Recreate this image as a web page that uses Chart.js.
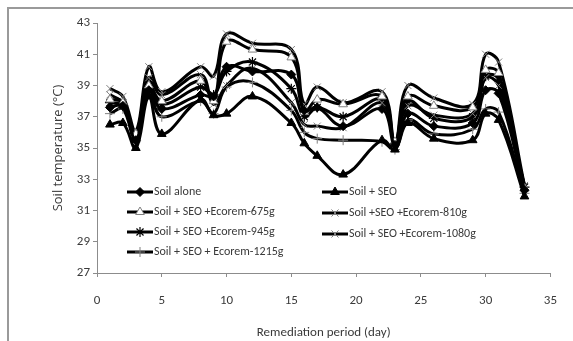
<!DOCTYPE html>
<html>
<head>
<meta charset="utf-8">
<script src="https://cdn.jsdelivr.net/npm/chart.js@4.4.0/dist/chart.umd.min.js"></script>
<style>
  body { margin: 0; background: #fff; }
  #wrap { position: relative; width: 573px; height: 341px; overflow: hidden; background: #fff; }
  #frame { position: absolute; left: 7px; top: 7px; width: 600px; height: 400px;
           border-top: 2px solid #9a9a9a; border-left: 2px solid #9a9a9a; }
  canvas { position: absolute; left: 0; top: 0; }
</style>
</head>
<body>
<div id="wrap">
  <div id="frame"></div>
  <canvas id="tempChart" width="573" height="341"></canvas>
</div>
<script>
// sampling days (x values)
const days = [1, 2, 3, 4, 5, 8, 9, 10, 12, 15, 16, 17, 19, 22, 23, 24, 26, 29, 30, 31, 33];

// soil temperature readings (°C)
const soilAlone   = [37.6, 37.7, 35.5, 38.7, 37.5, 38.4, 38.3, 40.2, 39.9, 39.7, 37.4, 37.6, 36.4, 37.5, 35.2, 37.2, 36.4, 36.6, 38.7, 38.5, 32.3];
const soilSeo     = [36.5, 36.6, 35.0, 38.3, 35.9, 38.1, 37.1, 37.2, 38.3, 36.6, 35.3, 34.5, 33.3, 35.5, 34.9, 36.6, 35.6, 35.5, 37.2, 36.8, 31.9];
const ecorem675   = [38.1, 37.9, 35.9, 39.0, 38.0, 39.3, 38.0, 41.8, 41.3, 40.8, 37.3, 38.1, 37.8, 38.3, 35.4, 38.3, 37.7, 37.6, 40.0, 39.8, 32.4];
const ecorem810   = [38.4, 37.9, 36.0, 39.5, 38.4, 39.7, 37.8, 39.0, 40.1, 37.9, 36.5, 36.4, 36.3, 37.9, 35.4, 37.7, 37.1, 37.2, 39.5, 39.0, 32.6];
const ecorem945   = [37.9, 37.7, 35.6, 39.2, 37.8, 38.9, 38.4, 39.9, 40.5, 38.8, 37.0, 37.6, 37.0, 38.1, 35.3, 38.0, 36.9, 37.0, 39.6, 39.4, 32.5];
const ecorem1080  = [38.8, 38.3, 36.1, 40.2, 38.6, 40.2, 39.6, 42.3, 41.7, 41.3, 37.8, 38.9, 37.9, 38.6, 35.3, 39.0, 38.2, 37.8, 41.0, 40.5, 32.6];
const ecorem1215  = [37.2, 37.5, 35.4, 38.5, 37.0, 38.0, 37.2, 38.9, 39.2, 37.4, 36.0, 35.6, 35.5, 35.4, 34.9, 36.8, 35.9, 36.2, 37.5, 37.3, 32.1];

const seriesLabels = [
    'Soil alone',
    'Soil + SEO',
    'Soil + SEO +Ecorem-675g',
    'Soil +SEO +Ecorem-810g',
    'Soil + SEO +Ecorem-945g',
    'Soil + SEO +Ecorem-1080g',
    'Soil + SEO + Ecorem-1215g'
];
const seriesValues = [soilAlone, soilSeo, ecorem675, ecorem810, ecorem945, ecorem1080, ecorem1215];

const yTicks = { min: 27, max: 43, step: 2 };
const xTicks = { min: 0, max: 35, step: 5 };

// marker look for each series
const markers = [
    { style: 'rectRot',  radius: 4.5, fill: '#000', stroke: '#000', width: 1 },
    { style: 'triangle', radius: 5,   fill: '#000', stroke: '#000', width: 1 },
    { style: 'triangle', radius: 5,   fill: '#fff', stroke: '#808080', width: 1 },
    { style: 'crossRot', radius: 5,   fill: '#808080', stroke: '#808080', width: 1 },
    { style: 'star',     radius: 5,   fill: '#000', stroke: '#000', width: 1.2 },
    { style: 'crossRot', radius: 5,   fill: '#808080', stroke: '#808080', width: 1 },
    { style: 'cross',    radius: 5,   fill: '#808080', stroke: '#808080', width: 1 }
];

const narrowFont = "Carlito, 'Liberation Sans Narrow', 'DejaVu Sans Condensed', sans-serif";
const textColor = '#3a3a3a';
const axisGray = '#8c8c8c';

const datasets = seriesLabels.map((label, i) => ({
    label: label,
    data: days.map((d, j) => ({ x: d, y: seriesValues[i][j] })),
    borderColor: '#000',
    borderWidth: 3,
    tension: 0.4,
    fill: false,
    pointStyle: markers[i].style,
    pointRadius: markers[i].radius,
    pointBackgroundColor: markers[i].fill,
    pointBorderColor: markers[i].stroke,
    pointBorderWidth: markers[i].width
}));

// legend drawn inside the plot, two columns like the original
const legendPlugin = {
    id: 'insideLegend',
    afterDraw(chart) {
        const ctx = chart.ctx;
        const cols = [127, 322];
        const rowTop = 192, rowStep = 20;
        ctx.save();
        seriesLabels.forEach((label, i) => {
            const col = i % 2;
            const row = Math.floor(i / 2);
            const x = cols[col];
            const y = rowTop + row * rowStep + (col === 1 ? row : 0);
            ctx.strokeStyle = '#000';
            ctx.lineWidth = 3;
            ctx.beginPath();
            ctx.moveTo(x, y);
            ctx.lineTo(x + 26, y);
            ctx.stroke();
            const m = markers[i];
            ctx.fillStyle = m.fill;
            ctx.strokeStyle = m.stroke;
            ctx.lineWidth = m.width;
            Chart.helpers.drawPoint(ctx, { pointStyle: m.style, radius: m.radius, borderWidth: m.width, rotation: 0 }, x + 13, y);
            ctx.fillStyle = textColor;
            ctx.font = '12px ' + narrowFont;
            ctx.textBaseline = 'middle';
            ctx.textAlign = 'left';
            ctx.fillText(label, x + 27, y);
        });
        ctx.restore();
    }
};

const ctx = document.getElementById('tempChart').getContext('2d');
new Chart(ctx, {
    type: 'line',
    data: { datasets: datasets },
    options: {
        responsive: false,
        animation: false,
        devicePixelRatio: 1,
        layout: { padding: { left: 46, top: 23, right: 12, bottom: 0 } },
        plugins: { legend: { display: false }, tooltip: { enabled: false } },
        scales: {
            x: {
                type: 'linear',
                min: xTicks.min,
                max: xTicks.max,
                afterFit: s => { s.height = 68; },
                ticks: { stepSize: xTicks.step, color: textColor, padding: 16, font: { family: narrowFont, size: 13 } },
                grid: { drawOnChartArea: false, color: axisGray, tickLength: 4 },
                border: { color: axisGray, width: 1 },
                title: { display: true, text: 'Remediation period (day)', color: textColor,
                         font: { family: narrowFont, size: 13 }, padding: { top: 4, bottom: 0 } }
            },
            y: {
                min: yTicks.min,
                max: yTicks.max,
                afterFit: s => { s.width = 51; },
                ticks: { stepSize: yTicks.step, color: textColor, padding: 3, font: { family: narrowFont, size: 13 } },
                grid: { drawOnChartArea: false, color: axisGray, tickLength: 4 },
                border: { color: axisGray, width: 1 },
                title: { display: true, text: 'Soil temperature (°C)', color: textColor,
                         font: { family: "'Open Sans', sans-serif", size: 13 }, padding: { top: 4, bottom: 4 } }
            }
        }
    },
    plugins: [legendPlugin]
});
</script>
</body>
</html>
